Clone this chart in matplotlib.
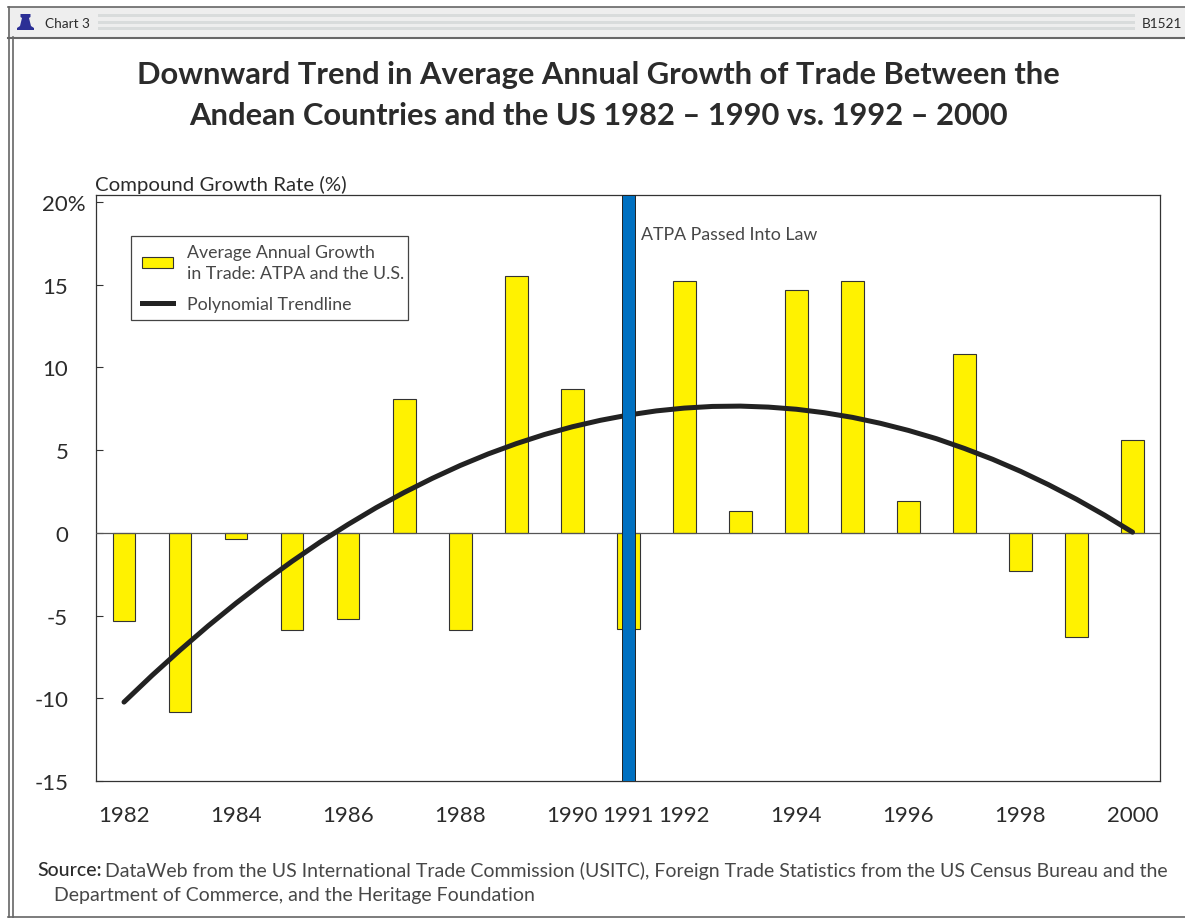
import matplotlib
matplotlib.use("Agg")
import matplotlib.pyplot as plt
from matplotlib.patches import Rectangle, Polygon
from matplotlib.lines import Line2D

plt.rcParams['font.family'] = ['Lato', 'DejaVu Sans']

# values
years = list(range(1982, 2001))
growth = [-5.3, -10.8, -0.4, -5.9, -5.2, 8.1, -5.9, 15.5, 8.7, -5.8,
          15.2, 1.3, 14.7, 15.2, 1.9, 10.8, -2.3, -6.3, 5.6]
# trendline read every half year
trend_x = [1982.0, 1982.5, 1983.0, 1983.5, 1984.0, 1984.5, 1985.0, 1985.5, 1986.0, 1986.5,
           1987.0, 1987.5, 1988.0, 1988.5, 1989.0, 1989.5, 1990.0, 1990.5, 1991.0, 1991.5,
           1992.0, 1992.5, 1993.0, 1993.5, 1994.0, 1994.5, 1995.0, 1995.5, 1996.0, 1996.5,
           1997.0, 1997.5, 1998.0, 1998.5, 1999.0, 1999.5, 2000.0]
trend_y = [-10.23, -8.62, -7.09, -5.63, -4.25, -2.95, -1.72, -0.56, 0.51, 1.52,
           2.44, 3.29, 4.07, 4.77, 5.39, 5.94, 6.41, 6.80, 7.12, 7.37,
           7.54, 7.64, 7.66, 7.60, 7.47, 7.26, 6.98, 6.62, 6.19, 5.69,
           5.10, 4.45, 3.72, 2.91, 2.03, 1.07, 0.04]
xticks = [1982, 1984, 1986, 1988, 1990, 1991, 1992, 1994, 1996, 1998, 2000]
yticks = [-15, -10, -5, 0, 5, 10, 15, 20]
ylabels = ['-15', '-10', '-5', '0', '5', '10', '15', '20%']
law_year = 1991

W, H = 1185, 920
TEXT = '#2b2b2b'
SOFT = '#474747'
EDGE = '#666666'

fig = plt.figure(figsize=(W / 100, H / 100), dpi=100, facecolor='white')

# overlay in pixel coords for the window frame and header
bg = fig.add_axes([0, 0, 1, 1], zorder=0)
bg.set_xlim(0, W)
bg.set_ylim(H, 0)
bg.axis('off')

bg.add_patch(Rectangle((8, 8), W, 30, fc='#eeeeee', ec='none'))
bg.plot([8, W], [8, 8], color=EDGE, lw=1.2)
bg.plot([8, W], [38.5, 38.5], color=EDGE, lw=1.5)
bg.plot([8.5, 8.5], [8, 918], color=EDGE, lw=1.2)
bg.plot([12.5, 12.5], [38, 918], color=EDGE, lw=1.2)
bg.plot([8, W], [918, 918], color=EDGE, lw=1.2)
for y in (15, 22, 28):
    bg.add_patch(Rectangle((98, y), 1037, 3, fc='#d9dcdc', ec='none'))

# bell icon
bg.add_patch(Polygon([(17, 31), (17, 29), (20, 27), (22, 19), (20.5, 18), (20.5, 15), (30.5, 15),
                      (30.5, 18), (29, 19), (31, 27), (34, 29), (34, 31)],
                     closed=True, fc='#2b2f95', ec='none'))
bg.text(45, 23.5, 'Chart 3', fontsize=9.8, color=TEXT, va='center', ha='left')
bg.text(1142, 23.5, 'B1521', fontsize=9.8, color=TEXT, va='center', ha='left')

bg.text(598.5, 75, 'Downward Trend in Average Annual Growth of Trade Between the',
        fontsize=22.2, fontweight='bold', color=TEXT, ha='center', va='center')
bg.text(598.5, 116, 'Andean Countries and the US 1982 \u2013 1990 vs. 1992 \u2013 2000',
        fontsize=22.2, fontweight='bold', color=TEXT, ha='center', va='center')

bg.text(95, 185, 'Compound Growth Rate (%)', fontsize=14.7, color=TEXT, ha='left', va='center')

bg.text(37, 871, 'Source:', fontsize=14.05, color=TEXT, fontweight='medium', ha='left', va='center')
bg.text(105, 871, 'DataWeb from the US International Trade Commission (USITC), Foreign Trade '
        'Statistics from the US Census Bureau and the',
        fontsize=14.05, color=SOFT, ha='left', va='center')
bg.text(54, 896, 'Department of Commerce, and the Heritage Foundation',
        fontsize=14.05, color=SOFT, ha='left', va='center')

# main axes
left, right, top, bottom = 96, 1160, 196, 782
ax = fig.add_axes([left / W, 1 - bottom / H, (right - left) / W, (bottom - top) / H], zorder=1)
ax.patch.set_alpha(0)

ax.bar(years, growth, width=0.405, color='#fff200', edgecolor='#333333', linewidth=0.8, zorder=2)
ax.axhline(0, color='#555555', lw=0.9, zorder=3)
ax.plot(trend_x, trend_y, color='#222222', lw=3.6, solid_capstyle='round', zorder=4)
ax.axvspan(law_year - 0.115, law_year + 0.115, facecolor='#0070c0', edgecolor='#222222', lw=0.7, zorder=5)

ax.set_xlim(1981.5, 2000.49)
ax.set_ylim(-15, 20.42)
ax.set_xticks(xticks)
ax.set_xticklabels(xticks)
ax.set_yticks(yticks)
ax.set_yticklabels(ylabels, va='center_baseline')
ax.tick_params(axis='x', length=0, pad=17.5, labelsize=16, labelcolor=TEXT)
ax.tick_params(axis='y', direction='in', length=5, width=0.8, color='#333333', pad=20,
               labelsize=16, labelcolor=TEXT)
# the % of the top label hangs out to the right of the other labels
ax.yaxis.get_major_ticks()[-1].set_pad(7.5)
for s in ax.spines.values():
    s.set_color('#333333')
    s.set_linewidth(0.9)

ax.text(1991.22, 18.05, 'ATPA Passed Into Law', fontsize=12.8, color=SOFT,
        ha='left', va='center')

# legend box is drawn apart because its right padding is tighter than the left
ax.add_patch(Rectangle((35 / 1064, 1 - 125 / 586), 277 / 1064, 84 / 586, transform=ax.transAxes,
                       fc='white', ec='#444444', lw=0.9, zorder=6))
handles = [Rectangle((0, 0), 1, 1, fc='#fff200', ec='#333333', lw=0.8),
           Line2D([0], [0], color='#222222', lw=3.6)]
leg = ax.legend(handles, ['Average Annual Growth\nin Trade: ATPA and the U.S.', 'Polynomial Trendline'],
                loc='upper left', bbox_to_anchor=(46 / 1064, 1 - 49 / 586), borderaxespad=0, borderpad=0,
                fontsize=12.8, frameon=False, handlelength=1.75, handletextpad=0.78,
                handleheight=0.55, labelspacing=0.84)
leg.set_zorder(7)
for txt in leg.get_texts():
    txt.set_color(SOFT)
    txt.set_linespacing(1.38)

fig.savefig('out.png', dpi=100)
